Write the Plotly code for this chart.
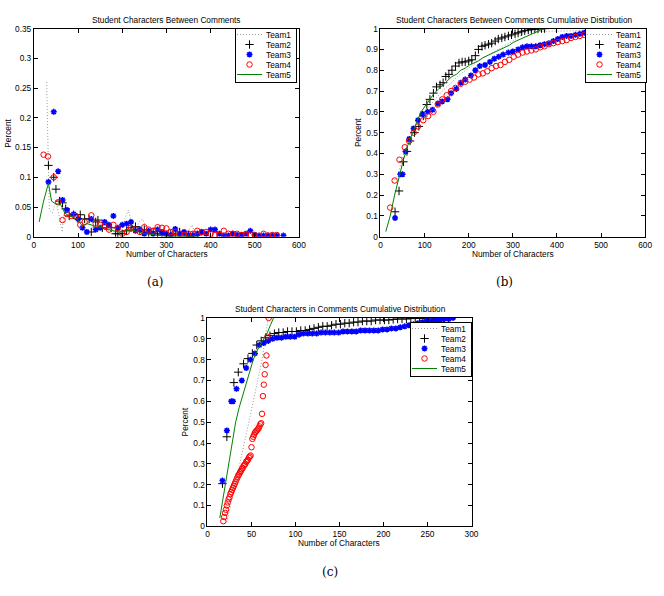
import plotly.graph_objects as go

W, H = 664, 596

# ---------------- (a) Student Characters Between Comments ----------------
a_t1_x = [29, 35, 42, 50, 57, 64, 70, 78, 86, 94, 102, 110, 118, 126, 134, 142, 150, 158, 166, 174, 182, 190, 198, 206, 214, 222, 230, 238, 246, 254, 262, 270, 278, 286, 294, 302, 310, 318, 326, 334, 342, 350, 358, 366, 374, 382]
a_t1_y = [0.26, 0.045, 0.04, 0.06, 0.035, 0.008, 0.05, 0.035, 0.04, 0.03, 0.025, 0.02, 0.02, 0.025, 0.015, 0.02, 0.012, 0.015, 0.01, 0.012, 0.008, 0.01, 0.005, 0.03, 0.045, 0.02, 0.01, 0.025, 0.03, 0.015, 0.008, 0.01, 0.005, 0.008, 0.005, 0.003, 0.005, 0.003, 0.008, 0.003, 0.005, 0.01, 0.02, 0.005, 0.003, 0.002]

a_t2_x = [33, 45, 50, 58, 65, 72, 80, 90, 100, 105, 115, 125, 130, 140, 145, 155, 165, 175, 185, 190, 200, 210, 220, 230, 240, 250, 260, 270, 280, 290, 300, 310, 320, 330, 340, 350, 360, 370]
a_t2_y = [0.12, 0.1, 0.08, 0.06, 0.057, 0.047, 0.035, 0.037, 0.03, 0.037, 0.03, 0.03, 0.008, 0.025, 0.028, 0.015, 0.02, 0.015, 0.005, 0.005, 0.005, 0.01, 0.015, 0.017, 0.01, 0.012, 0.005, 0.008, 0.005, 0.003, 0.003, 0.005, 0.003, 0.008, 0.003, 0.003, 0.002, 0.003]

a_t3_x = [33, 45, 55, 65, 75, 90, 100, 110, 120, 130, 140, 150, 160, 170, 180, 190, 200, 210, 220, 230, 240, 250, 260, 270, 280, 290, 300, 310, 320, 330, 340, 350, 360, 370, 380, 390, 400, 410, 420, 430, 440, 450, 460, 470, 480, 490, 500, 510, 520, 530, 540, 550, 565]
a_t3_y = [0.092, 0.21, 0.11, 0.062, 0.045, 0.038, 0.03, 0.015, 0.008, 0.03, 0.012, 0.015, 0.025, 0.02, 0.035, 0.015, 0.02, 0.022, 0.025, 0.01, 0.012, 0.005, 0.01, 0.005, 0.012, 0.008, 0.005, 0.003, 0.013, 0.005, 0.008, 0.003, 0.002, 0.005, 0.008, 0.005, 0.012, 0.012, 0.005, 0.002, 0.002, 0.005, 0.003, 0.003, 0.005, 0.01, 0.003, 0.002, 0.002, 0.002, 0.002, 0.002, 0.002]

a_t4_x = [22, 32, 45, 55, 65, 75, 85, 95, 105, 115, 130, 140, 150, 160, 170, 180, 190, 200, 210, 220, 230, 240, 250, 260, 270, 280, 290, 300, 310, 320, 330, 340, 350, 360, 370, 380, 390, 400, 410, 420, 430, 440, 450, 460, 470, 480, 490, 500, 510, 520, 530, 540, 550]
a_t4_y = [0.138, 0.135, 0.1, 0.058, 0.028, 0.038, 0.035, 0.035, 0.02, 0.025, 0.036, 0.022, 0.02, 0.018, 0.012, 0.02, 0.014, 0.005, 0.008, 0.015, 0.012, 0.008, 0.016, 0.012, 0.01, 0.016, 0.015, 0.014, 0.008, 0.008, 0.005, 0.003, 0.005, 0.005, 0.01, 0.008, 0.008, 0.005, 0.003, 0.003, 0.01, 0.005, 0.005, 0.005, 0.003, 0.003, 0.003, 0.003, 0.001, 0.005, 0.002, 0.003, 0.003]

a_t5_x = [12, 22, 33, 40, 50, 60, 70, 80, 90, 100, 110, 120, 130, 140, 150, 160, 170, 180, 190, 200, 210, 220, 230, 240, 250, 260, 270, 280, 290, 300, 320, 340, 360, 375]
a_t5_y = [0.025, 0.06, 0.09, 0.06, 0.055, 0.055, 0.04, 0.035, 0.032, 0.028, 0.018, 0.022, 0.02, 0.015, 0.018, 0.012, 0.012, 0.01, 0.008, 0.008, 0.01, 0.012, 0.01, 0.008, 0.005, 0.005, 0.003, 0.002, 0.002, 0.001, 0.001, 0.001, 0.001, 0.001]

# ---------------- (b) Between Comments Cumulative Distribution ----------------
b_t1_x = [28, 40, 50, 60, 70, 80, 90, 100, 120, 140, 160, 180, 200, 225, 250, 275, 300, 330, 360, 400, 450, 500, 560]
b_t1_y = [0.26, 0.3, 0.38, 0.44, 0.48, 0.52, 0.56, 0.6, 0.65, 0.7, 0.74, 0.78, 0.81, 0.85, 0.88, 0.91, 0.94, 0.985, 0.987, 0.988, 0.99, 0.99, 1.0]

b_t2_x = [33, 42, 52, 60, 67, 77, 87, 97, 105, 112, 120, 127, 135, 142, 148, 155, 162, 170, 178, 185, 192, 200, 207, 215, 222, 230, 237, 245, 252, 260, 267, 275, 282, 290, 297, 305, 312, 320, 327, 335, 342, 350, 357, 365, 372]
b_t2_y = [0.12, 0.22, 0.36, 0.41, 0.46, 0.5, 0.53, 0.58, 0.635, 0.66, 0.69, 0.72, 0.73, 0.74, 0.77, 0.78, 0.8, 0.82, 0.835, 0.84, 0.84, 0.845, 0.85, 0.87, 0.9, 0.915, 0.92, 0.925, 0.93, 0.94, 0.95, 0.955, 0.96, 0.965, 0.97, 0.975, 0.98, 0.985, 0.99, 0.993, 0.995, 0.997, 0.998, 1.0, 1.0]

b_t3_x = [33, 45, 50, 57, 65, 75, 85, 95, 107, 118, 130, 140, 152, 160, 172, 182, 192, 205, 215, 225, 237, 248, 258, 268, 278, 290, 300, 312, 322, 332, 342, 352, 362, 372, 382, 392, 402, 412, 422, 432, 442, 452, 462, 472, 482, 492, 502, 512, 522, 532, 542, 555, 567]
b_t3_y = [0.09, 0.3, 0.3, 0.41, 0.47, 0.52, 0.56, 0.59, 0.6, 0.61, 0.64, 0.65, 0.66, 0.69, 0.71, 0.74, 0.755, 0.775, 0.8, 0.82, 0.825, 0.84, 0.855, 0.865, 0.875, 0.885, 0.89, 0.9, 0.91, 0.915, 0.915, 0.915, 0.92, 0.925, 0.93, 0.94, 0.95, 0.96, 0.965, 0.965, 0.97, 0.975, 0.98, 0.985, 0.99, 0.995, 0.995, 0.997, 0.997, 0.998, 0.998, 1.0, 1.0]

b_t4_x = [22, 32, 43, 55, 65, 75, 85, 97, 108, 120, 130, 140, 150, 160, 170, 182, 192, 202, 212, 222, 232, 242, 252, 262, 272, 282, 292, 302, 312, 322, 332, 342, 352, 362, 372, 382, 392, 402, 412, 422, 432, 442, 452, 462, 472, 482, 492, 502, 512, 522, 532, 542, 550]
b_t4_y = [0.14, 0.27, 0.37, 0.43, 0.46, 0.5, 0.53, 0.56, 0.58, 0.6, 0.635, 0.66, 0.68, 0.7, 0.715, 0.735, 0.745, 0.755, 0.765, 0.78, 0.785, 0.795, 0.81, 0.82, 0.825, 0.84, 0.85, 0.865, 0.875, 0.885, 0.89, 0.895, 0.9, 0.91, 0.915, 0.925, 0.93, 0.935, 0.94, 0.945, 0.955, 0.96, 0.965, 0.97, 0.975, 0.978, 0.98, 0.983, 0.985, 0.99, 0.993, 0.997, 1.0]

b_t5_x = [12, 22, 32, 42, 52, 62, 72, 82, 92, 102, 112, 122, 132, 142, 152, 162, 172, 182, 192, 202, 212, 222, 232, 242, 252, 262, 272, 282, 292, 302, 312, 322, 332, 342, 352, 362, 375]
b_t5_y = [0.025, 0.1, 0.2, 0.29, 0.37, 0.44, 0.5, 0.55, 0.6, 0.63, 0.66, 0.69, 0.71, 0.73, 0.75, 0.77, 0.78, 0.8, 0.81, 0.825, 0.835, 0.845, 0.86, 0.87, 0.88, 0.89, 0.9, 0.91, 0.92, 0.935, 0.945, 0.955, 0.965, 0.975, 0.985, 0.992, 1.0]

# ---------------- (c) In Comments Cumulative Distribution ----------------
c_t1_x = [22, 30, 38, 46, 54, 62, 69]
c_t1_y = [0.02, 0.17, 0.33, 0.48, 0.64, 0.8, 1.0]

c_t2_x = [17, 22, 30, 35, 41, 46, 51, 56, 61, 66, 71, 76, 81, 86, 91, 96, 101, 106, 111, 116, 121, 126, 131, 136, 141, 146, 151, 156, 161, 166, 171, 176, 181, 186, 191, 196, 201, 206, 211, 216, 221, 226, 231, 236, 241, 246, 251, 256, 262, 268, 274]
c_t2_y = [0.205, 0.43, 0.69, 0.74, 0.78, 0.805, 0.83, 0.87, 0.89, 0.905, 0.915, 0.925, 0.93, 0.93, 0.935, 0.935, 0.935, 0.94, 0.94, 0.945, 0.95, 0.955, 0.96, 0.96, 0.965, 0.97, 0.97, 0.975, 0.975, 0.98, 0.98, 0.985, 0.985, 0.985, 0.99, 0.99, 0.99, 0.99, 0.993, 0.995, 0.995, 0.995, 0.997, 0.998, 0.998, 0.999, 1.0, 1.0, 1.0, 1.0, 1.0]

c_t3_x = [17, 22, 27, 29, 33, 39, 44, 49, 54, 59, 64, 69, 74, 79, 84, 89, 94, 99, 104, 109, 114, 119, 124, 129, 134, 139, 144, 149, 154, 159, 164, 169, 174, 179, 184, 189, 194, 199, 204, 209, 214, 219, 224, 229, 234, 239, 244, 249, 254, 259, 264, 269, 274, 279]
c_t3_y = [0.22, 0.46, 0.6, 0.6, 0.66, 0.7, 0.76, 0.8, 0.83, 0.87, 0.88, 0.89, 0.9, 0.905, 0.905, 0.91, 0.91, 0.91, 0.92, 0.925, 0.925, 0.925, 0.925, 0.93, 0.93, 0.93, 0.93, 0.93, 0.935, 0.935, 0.935, 0.935, 0.94, 0.94, 0.94, 0.94, 0.94, 0.945, 0.945, 0.95, 0.95, 0.955, 0.96, 0.965, 0.97, 0.975, 0.98, 0.985, 0.985, 0.99, 0.99, 0.995, 0.995, 1.0]

c_t4_x = [18, 19, 20, 21, 22, 23, 24, 25, 26, 27, 28, 29, 30, 31, 32, 33, 34, 35, 36, 37, 38, 39, 40, 41, 42, 43, 44, 45, 46, 47, 48, 49, 50, 51, 52, 53, 54, 55, 56, 57, 58, 59, 60, 61, 62, 63, 64, 65, 66, 67, 68, 69.5]
c_t4_y = [0.025, 0.045, 0.065, 0.08, 0.1, 0.115, 0.13, 0.14, 0.155, 0.165, 0.175, 0.185, 0.195, 0.205, 0.215, 0.225, 0.235, 0.245, 0.25, 0.26, 0.265, 0.275, 0.28, 0.29, 0.295, 0.3, 0.31, 0.315, 0.32, 0.33, 0.335, 0.34, 0.38, 0.42, 0.43, 0.44, 0.45, 0.455, 0.46, 0.465, 0.47, 0.48, 0.49, 0.495, 0.54, 0.625, 0.68, 0.73, 0.775, 0.82, 0.91, 1.0]

c_t5_x = [14, 17, 20, 23, 26, 29, 32, 36, 40, 44, 48, 52, 56, 60, 64, 68, 72, 75]
c_t5_y = [0.04, 0.12, 0.2, 0.28, 0.36, 0.43, 0.5, 0.57, 0.63, 0.69, 0.75, 0.8, 0.84, 0.87, 0.9, 0.93, 0.97, 1.0]

team_names = ["Team1", "Team2", "Team3", "Team4", "Team5"]

ticks_600 = [0, 100, 200, 300, 400, 500, 600]
ticks_300 = [0, 50, 100, 150, 200, 250, 300]
ticks_a_y = [0, 0.05, 0.1, 0.15, 0.2, 0.25, 0.3, 0.35]
ticklabels_a_y = ["0", "0.05", "0.1", "0.15", "0.2", "0.25", "0.3", "0.35"]
ticks_cdf_y = [0, 0.1, 0.2, 0.3, 0.4, 0.5, 0.6, 0.7, 0.8, 0.9, 1]
ticklabels_cdf_y = ["0", "0.1", "0.2", "0.3", "0.4", "0.5", "0.6", "0.7", "0.8", "0.9", "1"]

titles = ["Student Characters Between Comments",
          "Student Characters Between Comments Cumulative Distribution",
          "Student Characters in Comments Cumulative Distribution"]

FONT = "Liberation Sans, Arial, sans-serif"
FS = 8.3
GREEN = "rgb(0,128,0)"


def traces(data, xa, ya, legend):
    out = []
    (x1, y1), (x2, y2), (x3, y3), (x4, y4), (x5, y5) = data
    out.append(go.Scatter(x=x1, y=y1, mode="lines", name=team_names[0],
                          line=dict(color="#999999", width=1, dash="1px,2px"),
                          xaxis=xa, yaxis=ya, legend=legend))
    out.append(go.Scatter(x=x2, y=y2, mode="markers", name=team_names[1],
                          marker=dict(symbol="cross-thin", size=6, color="black",
                                      line=dict(color="black", width=1)),
                          xaxis=xa, yaxis=ya, legend=legend))
    out.append(go.Scatter(x=x3, y=y3, mode="markers", name=team_names[2],
                          marker=dict(symbol="asterisk-open", size=5, color="blue",
                                      line=dict(color="blue", width=1.5)),
                          xaxis=xa, yaxis=ya, legend=legend))
    out.append(go.Scatter(x=x4, y=y4, mode="markers", name=team_names[3],
                          marker=dict(symbol="circle-open", size=5.5, color="red",
                                      line=dict(color="red", width=1)),
                          xaxis=xa, yaxis=ya, legend=legend))
    out.append(go.Scatter(x=x5, y=y5, mode="lines", name=team_names[4],
                          line=dict(color=GREEN, width=1),
                          xaxis=xa, yaxis=ya, legend=legend))
    return out


fig = go.Figure()
for t in traces([(a_t1_x, a_t1_y), (a_t2_x, a_t2_y), (a_t3_x, a_t3_y), (a_t4_x, a_t4_y), (a_t5_x, a_t5_y)], "x", "y", "legend"):
    fig.add_trace(t)
for t in traces([(b_t1_x, b_t1_y), (b_t2_x, b_t2_y), (b_t3_x, b_t3_y), (b_t4_x, b_t4_y), (b_t5_x, b_t5_y)], "x2", "y2", "legend2"):
    fig.add_trace(t)
for t in traces([(c_t1_x, c_t1_y), (c_t2_x, c_t2_y), (c_t3_x, c_t3_y), (c_t4_x, c_t4_y), (c_t5_x, c_t5_y)], "x3", "y3", "legend3"):
    fig.add_trace(t)


def px(x, y):
    return x / W, 1 - y / H


def axis(domain, rng, tickvals, ticktext, anchor):
    return dict(domain=domain, range=rng, tickvals=tickvals, ticktext=ticktext,
                showline=True, linecolor="black", linewidth=1, mirror="ticks",
                ticks="inside", ticklen=4, tickcolor="black", showgrid=False,
                zeroline=False, anchor=anchor,
                tickfont=dict(family=FONT, size=FS, color="black"))


ax_a = [32.3 / W, 301 / W]
ax_b = [383.7 / W, 652 / W]
ax_c = [208.3 / W, 476 / W]
ay_ab = [1 - 235.7 / H, 1 - 24 / H]
ay_c = [1 - 530.3 / H, 1 - 318.3 / H]

fig.update_layout(
    xaxis=axis(ax_a, [0, 600], ticks_600, [str(v) for v in ticks_600], "y"),
    yaxis=axis(ay_ab, [0, 0.35], ticks_a_y, ticklabels_a_y, "x"),
    xaxis2=axis(ax_b, [0, 600], ticks_600, [str(v) for v in ticks_600], "y2"),
    yaxis2=axis(ay_ab, [0, 1], ticks_cdf_y, ticklabels_cdf_y, "x2"),
    xaxis3=axis(ax_c, [0, 300], ticks_300, [str(v) for v in ticks_300], "y3"),
    yaxis3=axis(ay_c, [0, 1], ticks_cdf_y, ticklabels_cdf_y, "x3"),
)


def legend_at(xl, yt):
    x, y = px(xl, yt)
    return dict(x=x, y=y, xanchor="left", yanchor="top", xref="paper", yref="paper",
                bgcolor="white", bordercolor="black", borderwidth=1,
                font=dict(family=FONT, size=FS, color="black"),
                tracegroupgap=0, itemwidth=30)


fig.update_layout(
    width=W, height=H, margin=dict(l=0, r=0, t=0, b=0),
    paper_bgcolor="white", plot_bgcolor="white", showlegend=True,
    legend=legend_at(235, 28), legend2=legend_at(585, 28), legend3=legend_at(410, 322),
)

ann = []
def text(x, y, s, size=FS, angle=0, family=FONT):
    xx, yy = px(x, y)
    ann.append(dict(x=xx, y=yy, xref="paper", yref="paper", text=s, showarrow=False,
                    xanchor="center", yanchor="middle", textangle=angle,
                    font=dict(family=family, size=size, color="black")))

text(167, 15, titles[0])
text(519, 15, titles[1])
text(343, 309, titles[2])
text(167, 253, "Number of Characters")
text(518, 253, "Number of Characters")
text(342, 547, "Number of Characters")
text(6, 130, "Percent", angle=-90)
text(361, 130, "Percent", angle=-90)
text(185, 424, "Percent", angle=-90)
text(156, 282, "(a)", size=12, family="DejaVu Serif, serif")
text(509, 282, "(b)", size=12, family="DejaVu Serif, serif")
text(333, 577, "(c)", size=12, family="DejaVu Serif, serif")
fig.update_layout(annotations=ann)

# Compact the legend boxes to MATLAB-like spacing (Plotly enforces a 19px minimum row).
# The adjustment is idempotent and re-applied in case Plotly re-lays-out a legend later.
post_js = """
var gd = document.getElementById('{plot_id}');
var POS = {legend: [235, 28], legend2: [585, 28], legend3: [410, 322]};
var STEP = 10, TOP = 6.5, BOT = 7.5, TXT_X = 31, BOXW = 61;
function compactLegends() {
  ['legend', 'legend2', 'legend3'].forEach(function(name){
    gd.querySelectorAll('g.' + name).forEach(function(lg){
      lg.setAttribute('transform', 'translate(' + POS[name][0] + ',' + POS[name][1] + ')');
      lg.querySelectorAll('g.scrollbox').forEach(function(sb){
        sb.removeAttribute('clip-path'); sb.setAttribute('transform', 'translate(0,0)');
      });
      var bg = lg.querySelector('rect.bg');
      if (bg) {
        bg.setAttribute('x', 0.5); bg.setAttribute('y', 0.5);
        bg.setAttribute('height', TOP + 4 * STEP + BOT);
        bg.setAttribute('width', BOXW);
      }
      lg.querySelectorAll('g.traces').forEach(function(t, i){
        t.setAttribute('transform', 'translate(0,' + (TOP + i * STEP) + ')');
        t.querySelectorAll('g.legendlines path').forEach(function(p){ p.setAttribute('d', 'M2,0h25'); });
        t.querySelectorAll('g.legendpoints path').forEach(function(p){ p.setAttribute('transform', 'translate(14.5,0)'); });
        t.querySelectorAll('text').forEach(function(tx){
          tx.removeAttribute('transform');
          tx.setAttribute('x', TXT_X);
          tx.querySelectorAll('tspan').forEach(function(s){ if (s.hasAttribute('x')) s.setAttribute('x', TXT_X); });
        });
      });
    });
  });
}
compactLegends();
if (gd.on) { gd.on('plotly_afterplot', compactLegends); }
[0, 50, 200, 600, 1500].forEach(function(ms){ setTimeout(compactLegends, ms); });
"""

fig.write_html("out.html", post_script=post_js)
